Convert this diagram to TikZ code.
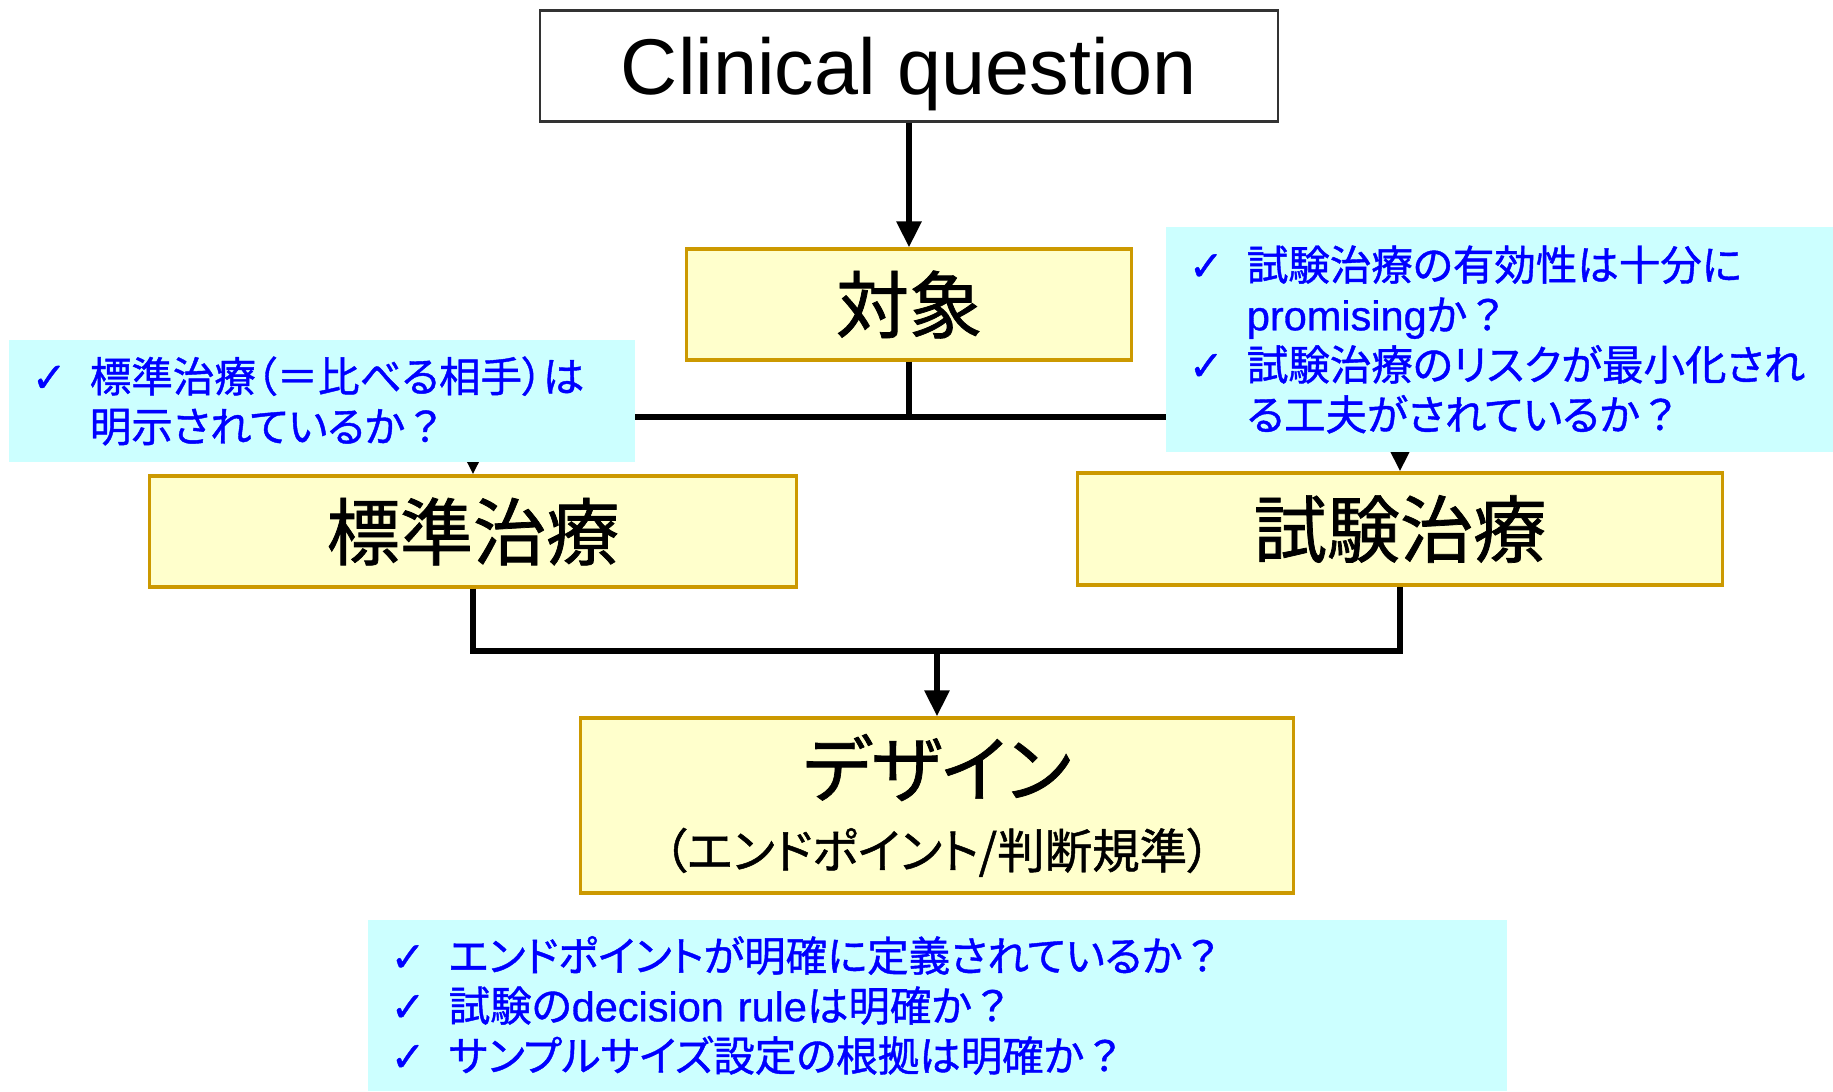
\documentclass[tikz,border=0pt]{standalone}
\usepackage{fontspec}
\setmainfont{Liberation Sans}
\newfontfamily\jpfont[RawFeature=+palt, FakeBold=1]{Noto Sans CJK JP}
\newfontfamily\jpwide[FakeBold=1]{Noto Sans CJK JP}
\newfontfamily\latfont[FakeBold=0.8]{Liberation Sans}
\newfontfamily\symfont[FakeBold=1]{DejaVu Sans}
\usetikzlibrary{arrows.meta,positioning}

\definecolor{boxfill}{RGB}{255,255,204}
\definecolor{boxline}{RGB}{204,153,0}
\definecolor{notefill}{RGB}{204,255,255}
\definecolor{notetext}{RGB}{0,0,255}

\newcommand{\chk}{\makebox[0.58cm][l]{\symfont ✓}}
\newcommand{\hang}{\hspace*{0.58cm}}
\newcommand{\qm}{{\jpwide ？}}

\tikzset{
    stepbox/.style={draw=boxline, line width=0.9pt, fill=boxfill, inner sep=0pt,
        font=\jpfont\fontsize{20.8}{20.5}\selectfont},
    notebox/.style={fill=notefill, inner xsep=0.23cm, inner ysep=0pt, align=left,
        text=notetext, font=\jpfont\fontsize{11.8}{14.2}\selectfont},
    link/.style={line width=1.7pt},
    arrowlink/.style={link, -{Triangle[width=0.24cm,length=0.26cm]}}
}

\begin{document}
\begin{tikzpicture}[x=0.01cm, y=-0.01cm]
    \useasboundingbox (0,0) rectangle (1833,1092);

    %boxes
    \node[draw=black!80, line width=0.6pt, fill=white, minimum width=7.38cm, minimum height=1.11cm,
        text depth=0pt, font=\fontsize{22.5}{27}\selectfont] (cq) at (909,66) {Clinical question};

    \node[stepbox, minimum width=4.45cm, minimum height=1.11cm] (target) at (909,304.5) {対象};

    \node[stepbox, minimum width=6.46cm, minimum height=1.11cm] (std) at (473,531.5) {標準治療};

    \node[stepbox, minimum width=6.45cm, minimum height=1.12cm] (exp) at (1400,529) {試験治療};

    \node[stepbox, minimum width=7.12cm, minimum height=1.75cm, align=center] (design) at (937,805.5)
        {デザイン\\{\fontsize{13.5}{16}\selectfont （エンドポイント/判断規準）}};

    %connectors
    \coordinate (split) at (909,417);
    \coordinate (merge) at (937,651);

    \draw[arrowlink] (cq.south) -- (target.north);

    \draw[link] (target.south) -- (split);

    \draw[arrowlink] (split) -| (std.north);

    \draw[arrowlink] (split) -| (exp.north);

    \draw[link] (std.south) |- (merge);

    \draw[link] (exp.south) |- (merge);

    \draw[arrowlink] (merge) -- (design.north);

    %notes
    \node[notebox, minimum width=6.26cm, minimum height=1.22cm, text width=5.80cm] (noteStd) at (322,401)
        {\chk 標準治療（＝比べる相手）は\\\hang 明示されているか\qm};

    \node[notebox, minimum width=6.67cm, minimum height=2.25cm, text width=6.21cm] (noteExp) at (1499.5,339.5)
        {\chk 試験治療の有効性は十分に\\\hang {\latfont promising}か\qm\\\chk 試験治療のリスクが最小化され\\\hang る工夫がされているか\qm};

    \node[notebox, minimum width=11.39cm, minimum height=1.71cm, text width=10.93cm] (noteDesign) at (937.5,1005.5)
        {\chk エンドポイントが明確に定義されているか\qm\\\chk 試験の{\latfont decision rule}は明確か\qm\\\chk サンプルサイズ設定の根拠は明確か\qm};
\end{tikzpicture}
\end{document}
